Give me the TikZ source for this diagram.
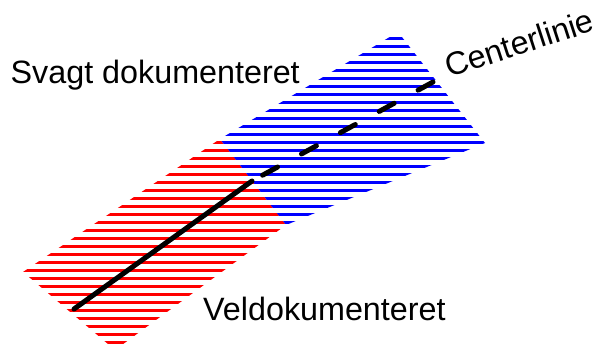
\documentclass[tikz,border=0pt]{standalone}
\usepackage{fontspec}
\setmainfont{Liberation Sans}
\begin{document}
\begin{tikzpicture}[x=1pt, y=-1pt, hatch/.style={line width=3pt},
    centre/.style={line width=5pt, line cap=round},
    txt/.style={inner sep=0pt, anchor=base west, font=\fontsize{32.3}{37}\selectfont}]
            \useasboundingbox (0,0) rectangle (600,343);
            % red part
            \begin{scope}
                \clip (23,272) -- (220,139) -- (286,225) -- (115,350) -- cycle;
                \foreach \y in {142,150,...,342}
                    \draw[hatch, red] (0,\y) -- (600,\y);
            \end{scope}
            % blue part
            \begin{scope}
                \clip (220,139) -- (398,32) -- (485,143) -- (286,225) -- cycle;
                \foreach \y in {38,46,...,222}
                    \draw[hatch, blue] (0,\y) -- (600,\y);
            \end{scope}
            \coordinate (cstart) at (74,309);
            \coordinate (cbreak) at (252,181);
            \coordinate (cend) at (433,82);
            \draw[centre] (cstart) -- (cbreak);
            \draw[centre, dash pattern=on 17pt off 27.3pt] (cend) -- (cbreak);
            \node[txt] (weak) at (10.5,83) {Svagt dokumenteret};
            \node[txt] (good) at (203,320) {Veldokumenteret};
            \node[txt, rotate=18] (cname) at (449,78) {Centerlinie};
        \end{tikzpicture}
\end{document}
